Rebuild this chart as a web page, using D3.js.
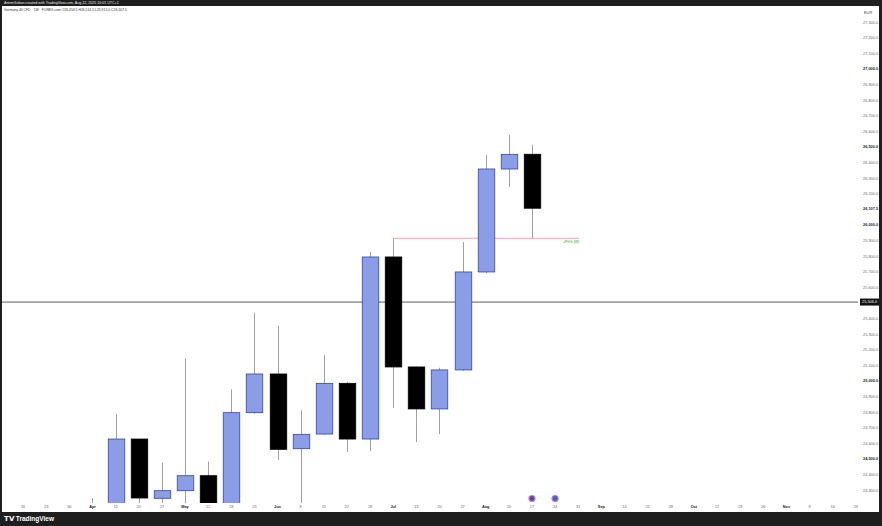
<!DOCTYPE html>
<html><head><meta charset="utf-8">
<script src="https://cdn.jsdelivr.net/npm/d3@7"></script>
<style>html,body{margin:0;padding:0;background:#1e1e1e;}svg{display:block;}</style>
</head><body>
<svg id="c" width="882" height="526"></svg>
<script>
// ---- data (weekly candles, Germany 40 CFD, EUR) ----
const weeks  = ["2025-04-06","2025-04-13","2025-04-20","2025-04-27","2025-05-04","2025-05-11","2025-05-18","2025-05-25","2025-06-01","2025-06-08","2025-06-15","2025-06-22","2025-06-29","2025-07-06","2025-07-13","2025-07-20","2025-07-27","2025-08-03","2025-08-10","2025-08-17"];
const opens  = [24050,24150,24628,24248,24297,24393,24150,24797,25045,24566,24660,24985,24628,25795,25090,24821,25071,25699,26359,26453.5];
const highs  = [24250,24788,24628,24476,25145,24483,24947,25438,25353,24812,25167,24995,25827,25915,25095,25085,25891,26449,26577,26514.5];
const lows   = [23900,24100,24200,24210,24200,24100,24100,24790,24494,24150,24655,24545,24550,24827,24609,24660,25065,25690,26244,25915];
const closes = [24150,24628,24250,24297,24393,24150,24797,25045,24562,24658,24985,24628,25795,25090,24821,25071,25699,26359,26453,26107.5];

const priceTicks = [24300,24400,24500,24600,24700,24800,24900,25000,25100,25200,25300,25400,25600,25700,25800,25900,26000,26200,26300,26400,26500,26600,26700,26800,26900,27000,27100,27200,27300];
const majorTicks = [24500,25000,26000,26500,27000];
const timeLabelDates = ["2025-03-16","2025-03-23","2025-03-30","2025-04-06","2025-04-13","2025-04-20","2025-04-27","2025-05-04","2025-05-11","2025-05-18","2025-05-25","2025-06-01","2025-06-08","2025-06-15","2025-06-22","2025-06-29","2025-07-06","2025-07-13","2025-07-20","2025-07-27","2025-08-03","2025-08-10","2025-08-17","2025-08-24","2025-08-31","2025-09-07","2025-09-14","2025-09-21","2025-09-28","2025-10-05","2025-10-12","2025-10-19","2025-10-26","2025-11-02","2025-11-09","2025-11-16","2025-11-23"];
const timeLabels = ["16","23","30","Apr","13","20","27","May","11","18","25","Jun","8","15","22","29","Jul","13","20","27","Aug","10","17","24","31","Sep","14","21","28","Oct","12","19","26","Nov","9","16","23"];

const hLinePrice = 25506.0;
const fvgPrice = 25915.0;
const fvgStart = "2025-07-06";
const fvgEnd = "2025-08-31";
const fvgLabel = "+FVG (W)";
const eventDates = ["2025-08-17","2025-08-24"];
const lastPrice = 26107.5;

const headerTop = "ArtemGaban created with TradingView.com, Aug 22, 2025 10:01 UTC+1";
const legend = "Germany 40 CFD · 1W · FOREX.com  O26,453.5  H26,514.5  L25,915.0  C26,107.5";

// ---- scales ----
const P = d3.utcParse("%Y-%m-%d");
const x = d3.scaleUtc().domain([P("2025-03-16"), P("2025-11-23")]).range([23.1, 855.8]);
const y = d3.scaleLinear().domain([26000, 25000]).range([225, 381]);
const fmt = d3.format(",.1f");

const svg = d3.select("#c");
const FONT = "'Liberation Sans', Arial, sans-serif";

// frame
svg.append("rect").attr("x",0).attr("y",0).attr("width",882).attr("height",526).attr("fill","#1e1e1e");
svg.append("rect").attr("x",2).attr("y",6).attr("width",877).attr("height",506).attr("fill","#ffffff");

// top strip text
svg.append("text").attr("x",4).attr("y",4.3).attr("fill","#e8e8e8").attr("font-family",FONT)
  .attr("font-size",3.6).text(headerTop);

// clip for plot
svg.append("defs").append("clipPath").attr("id","plot").append("rect")
  .attr("x",2).attr("y",6).attr("width",856).attr("height",497);
const g = svg.append("g").attr("clip-path","url(#plot)");

// horizontal line
g.append("line").attr("x1",2).attr("x2",858).attr("y1",y(hLinePrice)).attr("y2",y(hLinePrice))
  .attr("stroke","#333").attr("stroke-width",0.8);

// FVG line
g.append("line").attr("x1",x(P(fvgStart))).attr("x2",x(P(fvgEnd))+1)
  .attr("y1",y(fvgPrice)).attr("y2",y(fvgPrice)).attr("stroke","#f3a3a8").attr("stroke-width",1);
g.append("text").attr("x",x(P(fvgEnd))+1).attr("y",y(fvgPrice)+4.5).attr("text-anchor","end")
  .attr("fill","#22a32a").attr("font-family",FONT).attr("font-size",3.6).text(fvgLabel);

// candles
const data = weeks.map((w,i)=>({d:P(w),o:opens[i],h:highs[i],l:lows[i],c:closes[i]}));
const bw = 16.5;
const cg = g.selectAll("g.c").data(data).join("g");
cg.append("line").attr("x1",d=>Math.round(x(d.d))+0.5).attr("x2",d=>Math.round(x(d.d))+0.5)
  .attr("y1",d=>y(d.h)).attr("y2",d=>y(d.l)).attr("stroke","#a0a0a0").attr("stroke-width",1);
cg.append("rect").attr("x",d=>Math.round(x(d.d))+0.5-bw/2).attr("width",bw)
  .attr("y",d=>y(Math.max(d.o,d.c))).attr("height",d=>Math.max(1,Math.abs(y(d.o)-y(d.c))))
  .attr("fill",d=>d.c>=d.o?"#8c9de8":"#000000")
  .attr("stroke",d=>d.c>=d.o?"#3345a8":"#000000").attr("stroke-width",0.8);

// event markers
g.selectAll("circle.ev").data(eventDates).join("circle")
  .attr("cx",d=>x(P(d))).attr("cy",498.5).attr("r",3)
  .attr("fill",(d,i)=>i===0?"#4a4fb8":"#1f6fd0")
  .attr("stroke",(d,i)=>i===0?"#d77aa6":"#e0709a").attr("stroke-width",1.2);

// legend
svg.append("text").attr("x",4).attr("y",11.3).attr("fill","#333").attr("font-family",FONT)
  .attr("font-size",3.4).text(legend);

// price axis
const ax = svg.append("g").attr("font-family",FONT);
ax.selectAll("text.p").data(priceTicks).join("text")
  .attr("x",863).attr("y",d=>y(d)+1.4).attr("font-size",3.9)
  .attr("font-weight",d=>majorTicks.includes(d)?"bold":"normal")
  .attr("fill",d=>majorTicks.includes(d)?"#222":"#666").text(d=>fmt(d));
ax.append("text").attr("x",864).attr("y",13.5).attr("font-size",3.9).attr("fill","#444").text("EUR");
// last price label
ax.append("text").attr("x",863).attr("y",y(lastPrice)+1.8).attr("font-size",3.9).attr("font-weight","bold")
  .attr("fill","#222").text(fmt(lastPrice));
// h-line label
ax.append("rect").attr("x",860).attr("y",y(hLinePrice)-3.5).attr("width",19).attr("height",7).attr("fill","#111");
ax.append("text").attr("x",862).attr("y",y(hLinePrice)+1.4).attr("font-size",3.9).attr("fill","#fff").text(fmt(hLinePrice));

// time axis
const tx = svg.append("g").attr("font-family",FONT);
tx.selectAll("text").data(timeLabelDates).join("text")
  .attr("x",d=>x(P(d))).attr("y",508).attr("text-anchor","middle").attr("font-size",3.9)
  .attr("font-weight",(d,i)=>isNaN(+timeLabels[i])?"bold":"normal")
  .attr("fill",(d,i)=>isNaN(+timeLabels[i])?"#222":"#666")
  .text((d,i)=>timeLabels[i]);

// footer logo
svg.append("text").attr("x",4).attr("y",521).attr("fill","#ffffff").attr("font-family",FONT)
  .attr("font-weight","bold").attr("font-size",6.5).text("𝗧𝗩 TradingView");
</script>
</body></html>
